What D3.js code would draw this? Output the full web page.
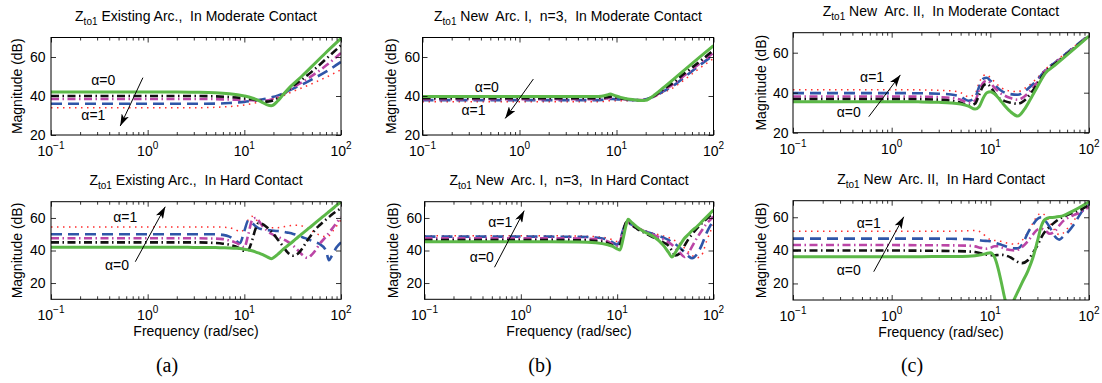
<!DOCTYPE html>
<html>
<head>
<meta charset="utf-8">
<script src="https://cdn.jsdelivr.net/npm/d3@7"></script>
<style>
  body { margin: 0; background: #fff; }
  svg { display: block; font-family: "Liberation Sans", Arial, sans-serif; }
</style>
</head>
<body>
<svg id="fig" width="1102" height="383"></svg>
<script>
// ---- data (frequency in rad/sec, magnitude in dB) ----

// (a) Existing Arc., moderate contact
const freqA1 = [0.1, 0.5, 1, 2, 3, 5, 7, 10, 12, 15, 17, 19, 22, 25, 30, 40, 50, 70, 100];
const A1_green   = [42, 42, 42, 42, 41.9, 41.7, 41.2, 40, 39, 37, 35.6, 35, 37.3, 40.5, 44.8, 50.5, 55.2, 62.3, 69.5];
const A1_black   = [40, 40, 40, 40, 40, 39.8, 39.5, 38.8, 38.3, 37.5, 37.1, 37.4, 38.8, 40.6, 44.2, 48.7, 52.5, 59, 66];
const A1_magenta = [38.5, 38.5, 38.5, 38.5, 38.5, 38.4, 38.2, 38, 37.8, 37.6, 37.7, 38.2, 39.4, 40.7, 43.6, 47.2, 50.3, 55.6, 62];
const A1_blue    = [36, 36, 36, 36, 36, 36.1, 36.4, 37, 37.5, 38.2, 38.7, 39.3, 40.2, 41.3, 43.2, 46, 48.5, 52.5, 57.5];
const A1_red     = [34, 34, 34, 34, 34, 34.2, 34.6, 35.4, 36.1, 37, 37.6, 38.2, 39.1, 40, 41.8, 44.3, 46.3, 49.6, 53.5];

// (a) Existing Arc., hard contact
const freqA2 = [0.1, 0.5, 1, 2, 3, 5, 6, 7, 8, 9, 10, 11, 12, 13, 14, 15, 17, 19, 22, 25, 28, 32, 36, 40, 45, 50, 55, 60, 70, 75, 80, 90, 100];
const A2_green   = [42, 42, 42, 42, 41.9, 41.8, 41.7, 41.6, 41.4, 41.2, 40.8, 40.3, 39.8, 39.2, 38.5, 37.8, 36.3, 35, 37.5, 40.5, 42.9, 45.7, 48.3, 50.5, 53, 55.2, 57.3, 59.1, 62.4, 63.8, 65.2, 67.7, 70];
const A2_black   = [45, 45, 45, 45, 45, 44.6, 44.2, 43.6, 42.6, 41.2, 39.8, 40.5, 46, 53, 56.8, 56.5, 54.5, 51.8, 47, 42.8, 38.8, 36.8, 38.2, 41.5, 46.3, 50, 53.3, 55.5, 59, 60.5, 62, 64.2, 66];
const A2_magenta = [47.5, 47.5, 47.5, 47.5, 47.5, 47.3, 47, 46.2, 45, 43.5, 42, 50, 58.5, 60, 58.5, 56, 52.5, 50.3, 48.5, 47, 45.5, 43, 40, 37.2, 35.5, 37.5, 40.5, 44, 48.5, 50.8, 53, 57, 60.5];
const A2_blue    = [50, 50, 50, 50, 50, 50, 49.6, 48.5, 46.5, 44.5, 52, 58.5, 57, 55, 53.8, 53.2, 52.6, 52.3, 52, 51.6, 51, 50.2, 49.2, 48.2, 47, 46, 45, 44, 40, 34, 36.5, 42, 45];
const A2_red     = [54.5, 54.5, 54.5, 54.5, 54.5, 54.5, 54.3, 54, 53, 51.5, 53, 59, 61, 59.5, 57.5, 56, 54.5, 54, 54, 54.5, 55, 55.5, 55.5, 55, 53.5, 52, 50.5, 49.5, 48.5, 49, 51, 55, 59];

// (b) New Arc. I, n=3, moderate contact
const freqB1 = [0.1, 0.5, 1, 2, 4, 6, 7, 8, 8.6, 9.5, 11, 13, 15, 18, 20, 22, 25, 30, 40, 50, 70, 100];
const B1_green   = [39.7, 39.7, 39.7, 39.7, 39.7, 39.7, 39.9, 40.5, 41, 40.3, 39.3, 38.5, 38.1, 37.7, 37.8, 38.8, 40.8, 44, 49.2, 53.3, 59.4, 65.8];
const B1_black   = [38.9, 38.9, 38.9, 38.9, 38.9, 38.9, 39, 39.4, 39.7, 39.3, 38.8, 38.3, 38, 37.8, 38, 38.8, 40.3, 43.2, 47.5, 51.5, 57.2, 63.5];
const B1_magenta = [38.4, 38.4, 38.4, 38.4, 38.4, 38.4, 38.5, 38.8, 39, 38.8, 38.5, 38.2, 38, 37.9, 38.1, 38.8, 40, 42.6, 46.6, 50.5, 56.2, 62.2];
const B1_blue    = [37.9, 37.9, 37.9, 37.9, 37.9, 37.9, 38, 38.3, 38.5, 38.4, 38.2, 38, 37.9, 38, 38.3, 39, 40, 42.2, 45.8, 49.6, 55.3, 61];
const B1_red     = [37, 37, 37, 37, 37, 37, 37.1, 37.4, 37.6, 37.6, 37.6, 37.6, 37.7, 38, 38.4, 39, 39.8, 41.6, 44.8, 48.3, 53.8, 59.2];

// (b) New Arc. I, n=3, hard contact
const freqB2 = [0.1, 0.5, 1, 2, 4, 6, 8, 9, 10, 10.7, 11.5, 12.3, 13, 14, 16, 19, 24, 30, 34, 37, 40, 45, 50, 55, 60, 67, 75, 85, 100];
const B2_green   = [45.4, 45.4, 45.4, 45.4, 45.3, 44.8, 43.5, 42.5, 41, 40.3, 47, 55, 59.2, 57.5, 54.5, 51.5, 48.5, 43.4, 39, 36, 38.5, 43.5, 47.5, 50, 52.3, 54.6, 57.5, 60.7, 64.9];
const B2_black   = [46.4, 46.4, 46.4, 46.4, 46.3, 45.8, 44.5, 43, 41.5, 43.5, 51, 57, 58, 56, 53.5, 51, 48, 45, 43, 40, 37, 38.5, 43, 47, 50, 53.5, 56.5, 59.5, 63];
const B2_magenta = [47.5, 47.5, 47.5, 47.5, 47.4, 47, 45.5, 44, 43, 45.5, 51.5, 56.5, 57.5, 56, 54, 52, 49.5, 47, 45, 43.5, 41.5, 38.5, 36, 38.5, 42.5, 47.5, 52, 56.5, 60.8];
const B2_blue    = [48.5, 48.5, 48.5, 48.5, 48.4, 48, 46.5, 45, 43.5, 46.5, 52.5, 56.5, 57, 56, 54, 52, 50, 48, 46.5, 45, 44, 41.5, 39, 36.5, 35.2, 37.5, 43, 51, 58.7];
const B2_red     = [49, 49, 49, 49, 48.9, 48.5, 47.5, 46.5, 45.5, 47, 52, 55.5, 56.5, 55.5, 54, 52.5, 50.5, 49, 48, 47, 46, 44, 41.5, 39, 37, 35.5, 37, 46, 56];

// (c) New Arc. II, moderate contact
const freqC1 = [0.1, 0.5, 1, 2, 3, 4, 5, 6, 7, 7.7, 8.5, 9.2, 10, 11, 12.5, 14, 16, 19, 22, 26, 30, 36, 45, 60, 80, 100];
const C1_green   = [35.5, 35.5, 35.5, 35.4, 35.2, 34.9, 34.3, 33.3, 31.8, 33, 37.5, 40, 40.5, 39.5, 36.5, 33.5, 30.5, 28.3, 31.5, 37.5, 43, 49.7, 53.7, 58.9, 64.2, 68.3];
const C1_black   = [36.8, 36.8, 36.8, 36.7, 36.5, 36, 35, 33.5, 34.5, 39, 43.5, 44.5, 43, 40, 37, 35.8, 35, 34.5, 36, 40, 44.5, 50.3, 54.3, 59.3, 64.5, 68.5];
const C1_magenta = [38.1, 38.1, 38.1, 38, 37.8, 37.4, 36.5, 35, 36, 41, 45, 46, 45, 42.5, 40, 38.5, 37.3, 36.5, 38, 41.5, 45.3, 50.8, 54.6, 59.6, 64.7, 68.6];
const C1_blue    = [39.8, 39.8, 39.8, 39.7, 39.5, 39.1, 38, 36, 37.5, 43, 47, 47.5, 46, 44, 41.5, 40, 39.3, 39, 40.5, 43.5, 46.5, 51.2, 55, 60, 65, 68.8];
const C1_red     = [41.5, 41.5, 41.5, 41.4, 41.2, 40.9, 40, 38, 39.5, 45, 48.5, 49, 47.5, 45.5, 43, 41.5, 40.8, 40.5, 42, 44.5, 47.5, 51.7, 55.4, 60.3, 65.2, 69];

// (c) New Arc. II, hard contact
const freqC2 = [0.1, 0.5, 1, 2, 4, 6, 7, 8, 9, 10, 11, 12, 13, 14, 15, 16, 17.5, 19, 21, 24, 27, 30, 33, 36, 40, 45, 50, 55, 60, 70, 85, 100];
const C2_green   = [36.2, 36.2, 36.2, 36.2, 36.3, 36.5, 36.8, 37.3, 38, 38.6, 36, 29, 20, 11, 5, 4, 10.5, 15, 20.5, 27.5, 35.5, 45.5, 55, 58.8, 59.8, 60, 60.4, 61, 62, 64, 66.8, 69.4];
const C2_black   = [39.9, 39.9, 39.9, 39.8, 39.6, 39.3, 39, 38.3, 37.5, 37, 37, 37.2, 37.3, 37, 36.5, 35.8, 34.2, 33, 32.3, 34, 38.5, 43, 48, 51.5, 54.3, 57, 59, 60.3, 61.3, 63, 65, 67.5];
const C2_magenta = [43.2, 43.2, 43.2, 43.1, 43, 42.8, 42.4, 41.5, 41, 41.5, 42.5, 42.5, 41.8, 41, 40.5, 40.2, 40, 40.3, 42, 45.5, 49.5, 52.5, 53, 52, 50, 51.5, 55, 57.8, 59.3, 61.3, 63.5, 66.5];
const C2_blue    = [47.1, 47.1, 47.1, 47.1, 47, 46.8, 46.5, 46, 45.7, 45.5, 44.8, 44, 43.3, 42.6, 42, 41.6, 41.2, 41.2, 43.5, 50.5, 55.5, 59, 60, 58, 54, 48.5, 46.5, 48.5, 50.5, 55.5, 63.5, 67.5];
const C2_red     = [51.5, 51.5, 51.5, 51.5, 51.6, 51.8, 52, 51, 48.5, 46.5, 46, 45.8, 45.3, 44.8, 44.3, 44, 43.8, 44, 46, 51, 56.5, 61, 62.5, 61, 57, 52, 49.5, 50.5, 53, 58, 64, 68];

const xMajor = [0.1, 1, 10, 100];
const xExp = ["\u22121", "0", "1", "2"];
const yTicks = [20, 40, 60];

// drawing order: alpha=1 first, alpha=0 (green) on top
const seriesStyle = [
  { key: "red",     color: "#ff2d2d", width: 1.5, dash: "1.5,4.5" },
  { key: "blue",    color: "#2f56a8", width: 2.6, dash: "11,6" },
  { key: "magenta", color: "#bb45a6", width: 2.6, dash: "8,3.5,1.5,3.5" },
  { key: "black",   color: "#111111", width: 2.6, dash: "8,3.5,1.5,3.5" },
  { key: "green",   color: "#5cb848", width: 3,   dash: null }
];

const panels = [
  { title: "Existing Arc.,  In Moderate Contact", freq: freqA1,
    s: { green: A1_green, black: A1_black, magenta: A1_magenta, blue: A1_blue, red: A1_red },
    yDomain: [20, 70], box: { x: 51, y: 37.5, w: 290, h: 97.5 }, col: 0, bottom: false,
    arrow: [[0.893, 49.4], [0.52, 24.6]], notes: [["\u03b1=0", 0.347, 48.2], ["\u03b1=1", 0.274, 30.3]] },
  { title: "New  Arc. I,  n=3,  In Moderate Contact", freq: freqB1,
    s: { green: B1_green, black: B1_black, magenta: B1_magenta, blue: B1_blue, red: B1_red },
    yDomain: [20, 70], box: { x: 422.5, y: 37.5, w: 291, h: 97.5 }, col: 1, bottom: false,
    arrow: [[1.39, 48.7], [0.712, 28.5]], notes: [["\u03b1=0", 0.461, 44.4], ["\u03b1=1", 0.336, 32.8]] },
  { title: "New  Arc. II,  In Moderate Contact", freq: freqC1,
    s: { green: C1_green, black: C1_black, magenta: C1_magenta, blue: C1_blue, red: C1_red },
    yDomain: [20, 70], box: { x: 793, y: 32.7, w: 296, h: 100 }, col: 2, bottom: false,
    arrow: [[0.586, 28], [1.225, 48.9]], notes: [["\u03b1=1", 0.633, 47.7], ["\u03b1=0", 0.367, 30.5]] },
  { title: "Existing Arc.,  In Hard Contact", freq: freqA2,
    s: { green: A2_green, black: A2_black, magenta: A2_magenta, blue: A2_blue, red: A2_red },
    yDomain: [10, 70], box: { x: 51, y: 201.7, w: 290, h: 97.6 }, col: 0, bottom: true,
    arrow: [[0.745, 33.1], [1.52, 66.9]], notes: [["\u03b1=1", 0.587, 60.8], ["\u03b1=0", 0.482, 31.1]] },
  { title: "New  Arc. I,  n=3,  In Hard Contact", freq: freqB2,
    s: { green: B2_green, black: B2_black, magenta: B2_magenta, blue: B2_blue, red: B2_red },
    yDomain: [10, 70], box: { x: 424.5, y: 201.7, w: 289, h: 97.6 }, col: 1, bottom: true,
    arrow: [[0.533, 29.7], [1.084, 64.5]], notes: [["\u03b1=1", 0.611, 57.7], ["\u03b1=0", 0.394, 35.8]] },
  { title: "New  Arc. II,  In Hard Contact", freq: freqC2,
    s: { green: C2_green, black: C2_black, magenta: C2_magenta, blue: C2_blue, red: C2_red },
    yDomain: [10, 70], box: { x: 793, y: 200.7, w: 296, h: 99.3 }, col: 2, bottom: true,
    arrow: [[0.658, 27.1], [1.327, 60.3]], notes: [["\u03b1=1", 0.586, 56.3], ["\u03b1=0", 0.367, 28.1]] }
];

const ylabelGap = [29.5, 26.5, 27];
const ytickPad = [5.5, 2.5, 4.5];
const subLabels = [["(a)", 167], ["(b)", 540], ["(c)", 912]];

const svg = d3.select("#fig");
const defs = svg.append("defs");
defs.append("marker")
    .attr("id", "arr")
    .attr("viewBox", "0 0 12 8")
    .attr("refX", 12).attr("refY", 4)
    .attr("markerWidth", 12).attr("markerHeight", 8)
    .attr("markerUnits", "userSpaceOnUse")
    .attr("orient", "auto")
  .append("path")
    .attr("d", "M0,0 L12,4 L0,8 L3,4 Z")
    .attr("fill", "#000");

const minorTicks = [];
[0.1, 1, 10].forEach(d => { for (let k = 2; k <= 9; k++) minorTicks.push(d * k); });

panels.forEach((p, i) => {
  const w = p.box.w, h = p.box.h;
  const g = svg.append("g").attr("transform", `translate(${p.box.x},${p.box.y})`);
  const x = d3.scaleLog().domain([0.1, 100]).range([0, w]);
  const y = d3.scaleLinear().domain(p.yDomain).range([h, 0]);

  defs.append("clipPath").attr("id", "clip" + i)
    .append("rect").attr("width", w).attr("height", h);

  g.append("rect").attr("width", w).attr("height", h).attr("fill", "#fff");

  // curves
  const line = d3.line()
      .x(d => x(d[0]))
      .y(d => y(d[1]))
      .curve(d3.curveMonotoneX);
  const plot = g.append("g").attr("clip-path", `url(#clip${i})`);
  seriesStyle.forEach(st => {
    const pts = p.freq.map((f, j) => [f, p.s[st.key][j]]);
    plot.append("path")
        .attr("d", line(pts))
        .attr("fill", "none")
        .attr("stroke", st.color)
        .attr("stroke-width", st.width)
        .attr("stroke-dasharray", st.dash)
        .attr("stroke-linejoin", "round");
  });

  // axes, ticks pointing inward
  const axes = g.append("g");
  axes.append("g").attr("transform", `translate(0,${h})`)
      .call(d3.axisBottom(x).tickValues(xMajor).tickSize(-5).tickFormat(""));
  axes.append("g").attr("transform", `translate(0,${h})`)
      .call(d3.axisBottom(x).tickValues(minorTicks).tickSize(-3).tickFormat(""));
  axes.append("g")
      .call(d3.axisTop(x).tickValues(xMajor).tickSize(-5).tickFormat(""));
  axes.append("g")
      .call(d3.axisTop(x).tickValues(minorTicks).tickSize(-3).tickFormat(""));
  const yl = axes.append("g")
      .call(d3.axisLeft(y).tickValues(yTicks).tickSize(-5).tickPadding(ytickPad[p.col]));
  axes.append("g").attr("transform", `translate(${w},0)`)
      .call(d3.axisRight(y).tickValues(yTicks).tickSize(-5).tickFormat(""));
  axes.selectAll(".domain").remove();
  axes.selectAll(".tick line").attr("stroke", "#000").attr("stroke-width", 0.8);
  yl.selectAll("text").attr("font-size", 14).attr("fill", "#000")
    .attr("font-family", "Liberation Sans, Arial, sans-serif");

  g.append("rect").attr("width", w).attr("height", h)
    .attr("fill", "none").attr("stroke", "#000").attr("stroke-width", 1);

  // x tick labels 10^n
  xMajor.forEach((v, k) => {
    const t = g.append("text")
        .attr("x", x(v)).attr("y", h + 21)
        .attr("text-anchor", "middle")
        .attr("font-size", 14);
    t.append("tspan").text("10");
    t.append("tspan").attr("dy", -7).attr("font-size", 10).text(xExp[k]);
  });

  // title
  const tt = g.append("text")
      .attr("x", w / 2).attr("y", -17)
      .attr("text-anchor", "middle")
      .attr("font-size", 14)
      .style("white-space", "pre");
  tt.append("tspan").text("Z");
  tt.append("tspan").attr("font-size", 10).attr("dy", 4).text("to1");
  tt.append("tspan").attr("dy", -4).text(" " + p.title);

  // y label
  g.append("text")
      .attr("transform", `translate(${-ylabelGap[p.col]},${h / 2}) rotate(-90)`)
      .attr("text-anchor", "middle")
      .attr("font-size", 14)
      .text("Magnitude (dB)");

  if (p.bottom) {
    g.append("text")
        .attr("x", w / 2).attr("y", h + 37)
        .attr("text-anchor", "middle")
        .attr("font-size", 14)
        .text("Frequency (rad/sec)");
  }

  // alpha annotations
  g.append("line")
      .attr("x1", x(p.arrow[0][0])).attr("y1", y(p.arrow[0][1]))
      .attr("x2", x(p.arrow[1][0])).attr("y2", y(p.arrow[1][1]))
      .attr("stroke", "#000").attr("stroke-width", 1)
      .attr("marker-end", "url(#arr)");
  p.notes.forEach(n => {
    g.append("text")
        .attr("x", x(n[1])).attr("y", y(n[2]))
        .attr("text-anchor", "middle")
        .attr("dominant-baseline", "central")
        .attr("font-size", 14)
        .text(n[0]);
  });
});

subLabels.forEach(l => {
  svg.append("text")
      .attr("x", l[1]).attr("y", 372)
      .attr("text-anchor", "middle")
      .attr("font-family", "Liberation Serif, Times New Roman, serif")
      .attr("font-size", 20)
      .text(l[0]);
});
</script>
</body>
</html>
